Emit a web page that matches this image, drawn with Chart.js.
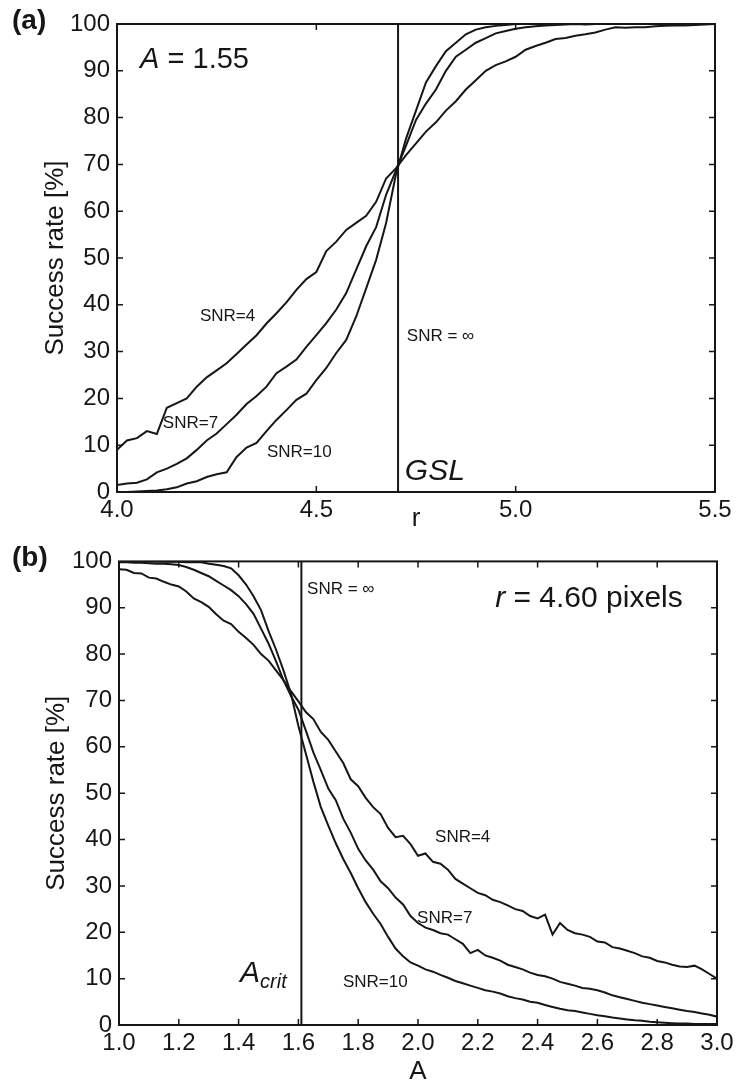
<!DOCTYPE html>
<html>
<head>
<meta charset="utf-8">
<script src="https://cdn.jsdelivr.net/npm/chart.js@4.4.0/dist/chart.umd.min.js"></script>
<style>
  html, body { margin: 0; padding: 0; background: #fff; }
  #wrap { position: relative; width: 738px; height: 1086px; }
  canvas { position: absolute; left: 0; }
  #chartA { top: 0; }
  #chartB { top: 540px; }
</style>
</head>
<body>
<div id="wrap">
  <canvas id="chartA" width="738" height="540"></canvas>
  <canvas id="chartB" width="738" height="546"></canvas>
</div>
<script>
// ---- panel (a): success rate vs r, A = 1.55 ----
const rA = [4.000, 4.025, 4.050, 4.075, 4.100, 4.125, 4.150, 4.175, 4.200, 4.225,
            4.250, 4.275, 4.300, 4.325, 4.350, 4.375, 4.400, 4.425, 4.450, 4.475,
            4.500, 4.525, 4.550, 4.575, 4.600, 4.625, 4.650, 4.675, 4.700, 4.725,
            4.750, 4.775, 4.800, 4.825, 4.850, 4.875, 4.900, 4.925, 4.950, 4.975,
            5.000, 5.025, 5.050, 5.075, 5.100, 5.125, 5.150, 5.175, 5.200, 5.225,
            5.250, 5.275, 5.300, 5.325, 5.350, 5.375, 5.400, 5.425, 5.450, 5.475, 5.500];
const snr4A = [9.0, 11.0, 11.5, 13.0, 12.4, 18.0, 19.0, 20.0, 22.5, 24.5,
               26.0, 27.5, 29.5, 31.5, 33.5, 36.0, 38.2, 40.5, 43.2, 45.5,
               47.0, 51.5, 53.5, 56.0, 57.5, 59.0, 62.0, 67.0, 69.2, 72.0,
               74.5, 77.0, 79.0, 81.5, 83.5, 86.0, 88.0, 90.0, 91.2, 92.0,
               93.0, 94.5, 95.3, 96.0, 96.8, 97.0, 97.5, 97.8, 98.2, 98.8,
               99.3, 99.2, 99.3, 99.3, 99.5, 99.6, 99.7, 99.7, 99.8, 99.9, 100];
const snr7A = [1.5, 1.8, 2.0, 2.7, 4.2, 5.0, 6.0, 7.2, 9.0, 11.0,
               12.5, 14.5, 16.5, 18.8, 20.5, 22.5, 25.4, 26.8, 28.3, 31.0,
               33.5, 36.1, 39.0, 42.5, 47.5, 52.5, 56.6, 63.5, 68.8, 74.0,
               79.5, 83.0, 86.0, 90.0, 93.0, 94.5, 96.0, 97.0, 98.0, 98.5,
               99.0, 99.3, 99.5, 99.7, 99.8, 99.9, 100, 99.9, 100, 100,
               100, 100, 100, 100, 100, 100, 100, 100, 100, 100, 100];
const snr10A = [0.0, 0.0, 0.1, 0.2, 0.3, 0.6, 1.0, 1.8, 2.3, 3.2,
                3.8, 4.2, 7.5, 9.5, 10.5, 13.0, 15.4, 17.5, 19.7, 21.0,
                23.9, 26.5, 29.7, 32.5, 37.5, 43.5, 49.6, 57.5, 68.0, 75.5,
                81.5, 87.5, 91.0, 94.2, 96.0, 97.8, 98.8, 99.3, 99.6, 99.8,
                100, 100, 100, 100, 100, 100, 100, 100, 100, 100,
                100, 100, 100, 100, 100, 100, 100, 100, 100, 100, 100];
const gslR = 4.705;

// ---- panel (b): success rate vs A, r = 4.60 px ----
const aB = [1.000, 1.025, 1.050, 1.075, 1.100, 1.125, 1.150, 1.175, 1.200, 1.225,
            1.250, 1.275, 1.300, 1.325, 1.350, 1.375, 1.400, 1.425, 1.450, 1.475,
            1.500, 1.525, 1.550, 1.575, 1.600, 1.625, 1.650, 1.675, 1.700, 1.725,
            1.750, 1.775, 1.800, 1.825, 1.850, 1.875, 1.900, 1.925, 1.950, 1.975,
            2.000, 2.025, 2.050, 2.075, 2.100, 2.125, 2.150, 2.175, 2.200, 2.225,
            2.250, 2.275, 2.300, 2.325, 2.350, 2.375, 2.400, 2.425, 2.450, 2.475,
            2.500, 2.525, 2.550, 2.575, 2.600, 2.625, 2.650, 2.675, 2.700, 2.725,
            2.750, 2.775, 2.800, 2.825, 2.850, 2.875, 2.900, 2.925, 2.950, 2.975, 3.000];
const snr4B = [98.3, 98.2, 97.5, 97.4, 96.5, 96.3, 95.6, 95.0, 94.6, 93.5,
               92.0, 91.2, 90.2, 88.6, 87.2, 86.5, 84.8, 83.5, 82.0, 80.0,
               78.6, 76.5, 74.4, 72.0, 69.8, 67.5, 66.0, 63.2, 61.5, 59.0,
               56.5, 53.0, 51.5, 49.0, 47.0, 45.5, 42.5, 40.5, 40.8, 39.0,
               36.5, 37.0, 35.2, 34.8, 33.5, 31.5, 30.5, 29.5, 28.5, 28.0,
               27.0, 26.5, 25.8, 25.0, 24.6, 23.5, 23.0, 23.8, 19.5, 22.0,
               20.5, 19.8, 19.5, 19.0, 18.0, 17.8, 16.8, 16.5, 16.0, 15.5,
               14.8, 14.5, 13.8, 13.5, 13.0, 12.6, 12.5, 12.8, 12.0, 11.0, 10.0];
const snr7B = [99.8, 99.8, 99.7, 99.7, 99.6, 99.5, 99.5, 99.4, 99.2, 98.8,
               98.2, 97.5, 96.8, 95.8, 94.8, 93.8, 92.5, 90.8, 88.7, 85.5,
               82.3, 78.5, 74.4, 71.0, 68.0, 63.5, 58.8, 55.0, 51.0, 48.5,
               44.5, 41.5, 38.0, 35.5, 33.5, 31.0, 29.5, 27.5, 26.0, 23.5,
               22.0, 21.0, 20.5, 19.8, 19.5, 18.5, 17.5, 15.5, 16.2, 15.0,
               14.5, 13.9, 13.0, 12.5, 12.0, 11.3, 10.8, 10.5, 10.0, 9.3,
               8.9, 8.5, 8.0, 7.8, 7.5, 7.0, 6.4, 6.0, 5.6, 5.2,
               4.8, 4.5, 4.2, 3.9, 3.6, 3.3, 3.0, 2.8, 2.5, 2.2, 1.8];
const snr10B = [100, 100, 100, 100, 100, 100, 99.9, 99.9, 99.9, 99.8,
                99.8, 99.8, 99.5, 99.3, 99.0, 98.5, 97.0, 95.0, 92.5, 89.5,
                85.0, 81.0, 76.5, 71.5, 64.5, 58.5, 52.5, 47.0, 43.0, 39.2,
                35.8, 32.8, 29.5, 26.5, 24.0, 21.8, 19.0, 16.5, 14.8, 13.5,
                12.8, 12.0, 11.5, 10.8, 10.2, 9.5, 9.0, 8.5, 8.0, 7.5,
                7.2, 6.8, 6.2, 5.8, 5.5, 5.0, 4.8, 4.3, 3.9, 3.5,
                3.2, 3.0, 2.7, 2.4, 2.1, 1.9, 1.6, 1.4, 1.2, 1.0,
                0.9, 0.7, 0.6, 0.5, 0.4, 0.3, 0.3, 0.2, 0.2, 0.2, 0.2];
const aCrit = 1.61;

const yTicks = { min: 0, max: 100, step: 10 };

const INK = '#161616';
const FONT = '"Liberation Sans", Arial, sans-serif';
Chart.defaults.font.family = FONT;
Chart.defaults.color = INK;

function pts(xs, ys) {
  return xs.map((x, i) => ({ x: x, y: ys[i] }));
}

function line(data) {
  return { data: data, borderColor: INK, borderWidth: 2, pointRadius: 0, tension: 0, fill: false };
}

// frame on all four sides, inward tick marks, and the text annotations
const framePlugin = {
  id: 'frame',
  afterDraw(chart, args, opts) {
    const { ctx, chartArea: a, scales: { x, y } } = chart;
    ctx.save();
    ctx.strokeStyle = INK;
    ctx.lineWidth = 2;
    ctx.strokeRect(a.left, a.top, a.right - a.left, a.bottom - a.top);

    ctx.lineWidth = 1.5;
    ctx.beginPath();
    x.ticks.forEach(t => {
      if (t.value <= x.min + 1e-9 || t.value >= x.max - 1e-9) return;
      const px = x.getPixelForValue(t.value);
      ctx.moveTo(px, a.bottom); ctx.lineTo(px, a.bottom - 6);
      ctx.moveTo(px, a.top); ctx.lineTo(px, a.top + 6);
    });
    y.ticks.forEach(t => {
      if (t.value <= y.min || t.value >= y.max) return;
      const py = y.getPixelForValue(t.value);
      ctx.moveTo(a.left, py); ctx.lineTo(a.left + 6, py);
      ctx.moveTo(a.right, py); ctx.lineTo(a.right - 6, py);
    });
    ctx.stroke();

    ctx.fillStyle = INK;
    ctx.textBaseline = 'alphabetic';
    ctx.textAlign = 'left';
    opts.labels.forEach(l => {
      let px = x.getPixelForValue(l.x);
      const py = y.getPixelForValue(l.y);
      l.parts.forEach(p => {
        ctx.font = p.f + ' ' + FONT;
        ctx.fillText(p.t, px, py + (p.dy || 0));
        px += ctx.measureText(p.t).width;
      });
    });

    // panel tag, (a) / (b)
    ctx.font = 'bold 28px ' + FONT;
    ctx.fillText(opts.tag, 12, opts.tagY);
    ctx.restore();
  }
};

function makePanel(id, cfg) {
  return new Chart(document.getElementById(id), {
    type: 'line',
    data: { datasets: cfg.datasets },
    options: {
      responsive: false,
      animation: false,
      layout: { padding: cfg.padding },
      scales: {
        x: {
          type: 'linear', min: cfg.xMin, max: cfg.xMax,
          ticks: { stepSize: cfg.xStep, padding: 4, font: { size: 24 }, maxRotation: 0, autoSkip: false,
                   callback: v => Number(v).toFixed(1) },
          grid: { display: false, drawTicks: false, tickLength: 0 },
          border: { display: false },
          title: { display: true, text: cfg.xTitle, font: { size: 26, lineHeight: 1 }, padding: { top: 0, bottom: cfg.xTitlePad } },
          afterFit: s => { s.height = cfg.xHeight; }
        },
        y: {
          type: 'linear', min: yTicks.min, max: yTicks.max,
          ticks: { stepSize: yTicks.step, padding: 7, font: { size: 24 } },
          grid: { display: false, drawTicks: false, tickLength: 0 },
          border: { display: false },
          title: { display: true, text: 'Success rate [%]', font: { size: 26, lineHeight: 1 }, padding: { top: cfg.yTitlePad, bottom: 0 } },
          afterFit: s => { s.width = cfg.yWidth; }
        }
      },
      plugins: {
        legend: { display: false },
        tooltip: { enabled: false },
        frame: { labels: cfg.labels, tag: cfg.tag, tagY: cfg.tagY }
      }
    },
    plugins: [framePlugin]
  });
}

makePanel('chartA', {
  datasets: [
    line(pts(rA, snr4A)),
    line(pts(rA, snr7A)),
    line(pts(rA, snr10A)),
    line([{ x: gslR, y: 0 }, { x: gslR, y: 100 }])
  ],
  padding: { top: 24, right: 23, bottom: 0, left: 0 },
  xMin: 4.0, xMax: 5.5, xStep: 0.5, xTitle: 'r', xTitlePad: 8, xHeight: 48,
  yTitlePad: 43, yWidth: 117,
  tag: '(a)', tagY: 29,
  labels: [
    { x: 4.058, y: 90.6, parts: [{ t: 'A', f: 'italic 29px' }, { t: ' = 1.55', f: '29px' }] },
    { x: 4.208, y: 36.6, parts: [{ t: 'SNR=4', f: '17px' }] },
    { x: 4.115, y: 13.6, parts: [{ t: 'SNR=7', f: '17px' }] },
    { x: 4.376, y: 7.5, parts: [{ t: 'SNR=10', f: '17px' }] },
    { x: 4.727, y: 32.3, parts: [{ t: 'SNR = \u221E', f: '17px' }] },
    { x: 4.722, y: 2.6, parts: [{ t: 'GSL', f: 'italic 30px' }] }
  ]
});

makePanel('chartB', {
  datasets: [
    line(pts(aB, snr4B)),
    line(pts(aB, snr7B)),
    line(pts(aB, snr10B)),
    line([{ x: aCrit, y: 0 }, { x: aCrit, y: 100 }])
  ],
  padding: { top: 17, right: 21, bottom: 0, left: 0 },
  xMin: 1.0, xMax: 3.0, xStep: 0.2, xTitle: 'A', xTitlePad: 1, xHeight: 61,
  yTitlePad: 44, yWidth: 119,
  tag: '(b)', tagY: 26,
  labels: [
    { x: 1.629, y: 92.9, parts: [{ t: 'SNR = \u221E', f: '17px' }] },
    { x: 2.258, y: 90.2, parts: [{ t: 'r', f: 'italic 30px' }, { t: ' = 4.60 pixels', f: '30px' }] },
    { x: 1.405, y: 9.2, parts: [{ t: 'A', f: 'italic 30px' }, { t: 'crit', f: 'italic 20px', dy: 6 }] },
    { x: 2.057, y: 39.5, parts: [{ t: 'SNR=4', f: '17px' }] },
    { x: 1.997, y: 21.9, parts: [{ t: 'SNR=7', f: '17px' }] },
    { x: 1.749, y: 8.3, parts: [{ t: 'SNR=10', f: '17px' }] }
  ]
});
</script>
</body>
</html>
